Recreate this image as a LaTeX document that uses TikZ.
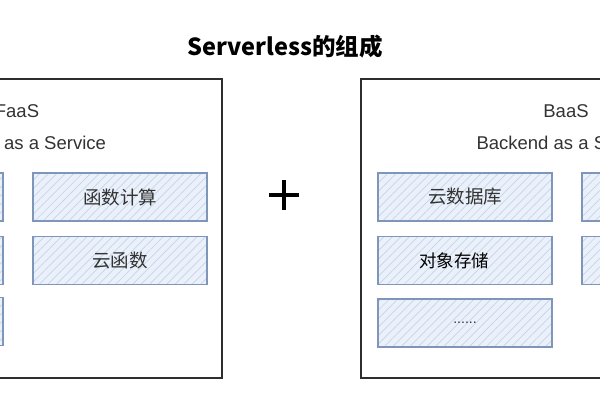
\documentclass[tikz,border=0pt]{standalone}
\usepackage{fontspec}
\setmainfont{Liberation Sans}
\newfontfamily\cjk{Noto Sans CJK SC}
\usetikzlibrary{patterns.meta}
\definecolor{framec}{HTML}{2E2E2E}
\definecolor{boxborder}{HTML}{7F95B9}
\definecolor{boxfill}{HTML}{EBF1FA}
\definecolor{hatchc}{HTML}{C6D3E8}
\definecolor{textc}{HTML}{333333}
\tikzset{
  frame/.style={draw=framec, line width=2.2pt, minimum width=410pt, minimum height=299pt, inner sep=0pt},
  cell/.style={draw=boxborder, line width=1.7pt, minimum width=174pt, minimum height=48pt, inner sep=0pt,
    preaction={fill=boxfill}, pattern={Lines[angle=45,distance=6pt,line width=0.7pt]}, pattern color=hatchc,
    text=textc, font=\cjk\fontsize{18.5}{22}\selectfont},
  label/.style={text=textc, font=\fontsize{18.5}{22}\selectfont, inner sep=0pt},
  plusline/.style={line width=4pt, draw=black}
}
\begin{document}
\begin{tikzpicture}[x=1pt,y=-1pt]
\clip (0,0) rectangle (600,400);
\fill[white] (0,0) rectangle (600,400);
% title
\node[text=black, font=\cjk\bfseries\fontsize{23.5}{28}\selectfont] (title) at (285,47) {Serverless的组成};
% frames
\node[frame] (faas) at (17,228.5) {};
\node[frame] (baas) at (566,228.5) {};
% labels
\node[label] (faasname) at (17,111) {FaaS};
\node[label] (faasfull) at (17,143) {Function as a Service};
\node[label] (baasname) at (566,111) {BaaS};
\node[label] (baasfull) at (566,143) {Backend as a Service};
% FaaS cells
\node[cell] (fa1) at (-84,197) {};
\node[cell] (fa2) at (-84,260.5) {};
\node[cell] (fa3) at (-84,321.5) {};
\node[cell] (fb1) at (120,197) {函数计算};
\node[cell] (fb2) at (120,260.5) {云函数};
% BaaS cells
\node[cell] (ba1) at (465,197) {云数据库};
\node[cell, text=black, font=\cjk\fontsize{17.5}{21}\selectfont] (ba2) at (465,260.5) {\hspace*{-22pt}对象存储};
\node[cell, font=\fontsize{14}{16}\selectfont, text=textc] (ba3) at (465,323) {......};
\node[cell] (bb1) at (669,197) {};
\node[cell] (bb2) at (669,260.5) {};
% plus
\coordinate (plus) at (284,195);
\draw[plusline] ([xshift=-15pt]plus) -- ([xshift=15pt]plus);
\draw[plusline] ([yshift=-15pt]plus) -- ([yshift=15pt]plus);
\end{tikzpicture}
\end{document}
